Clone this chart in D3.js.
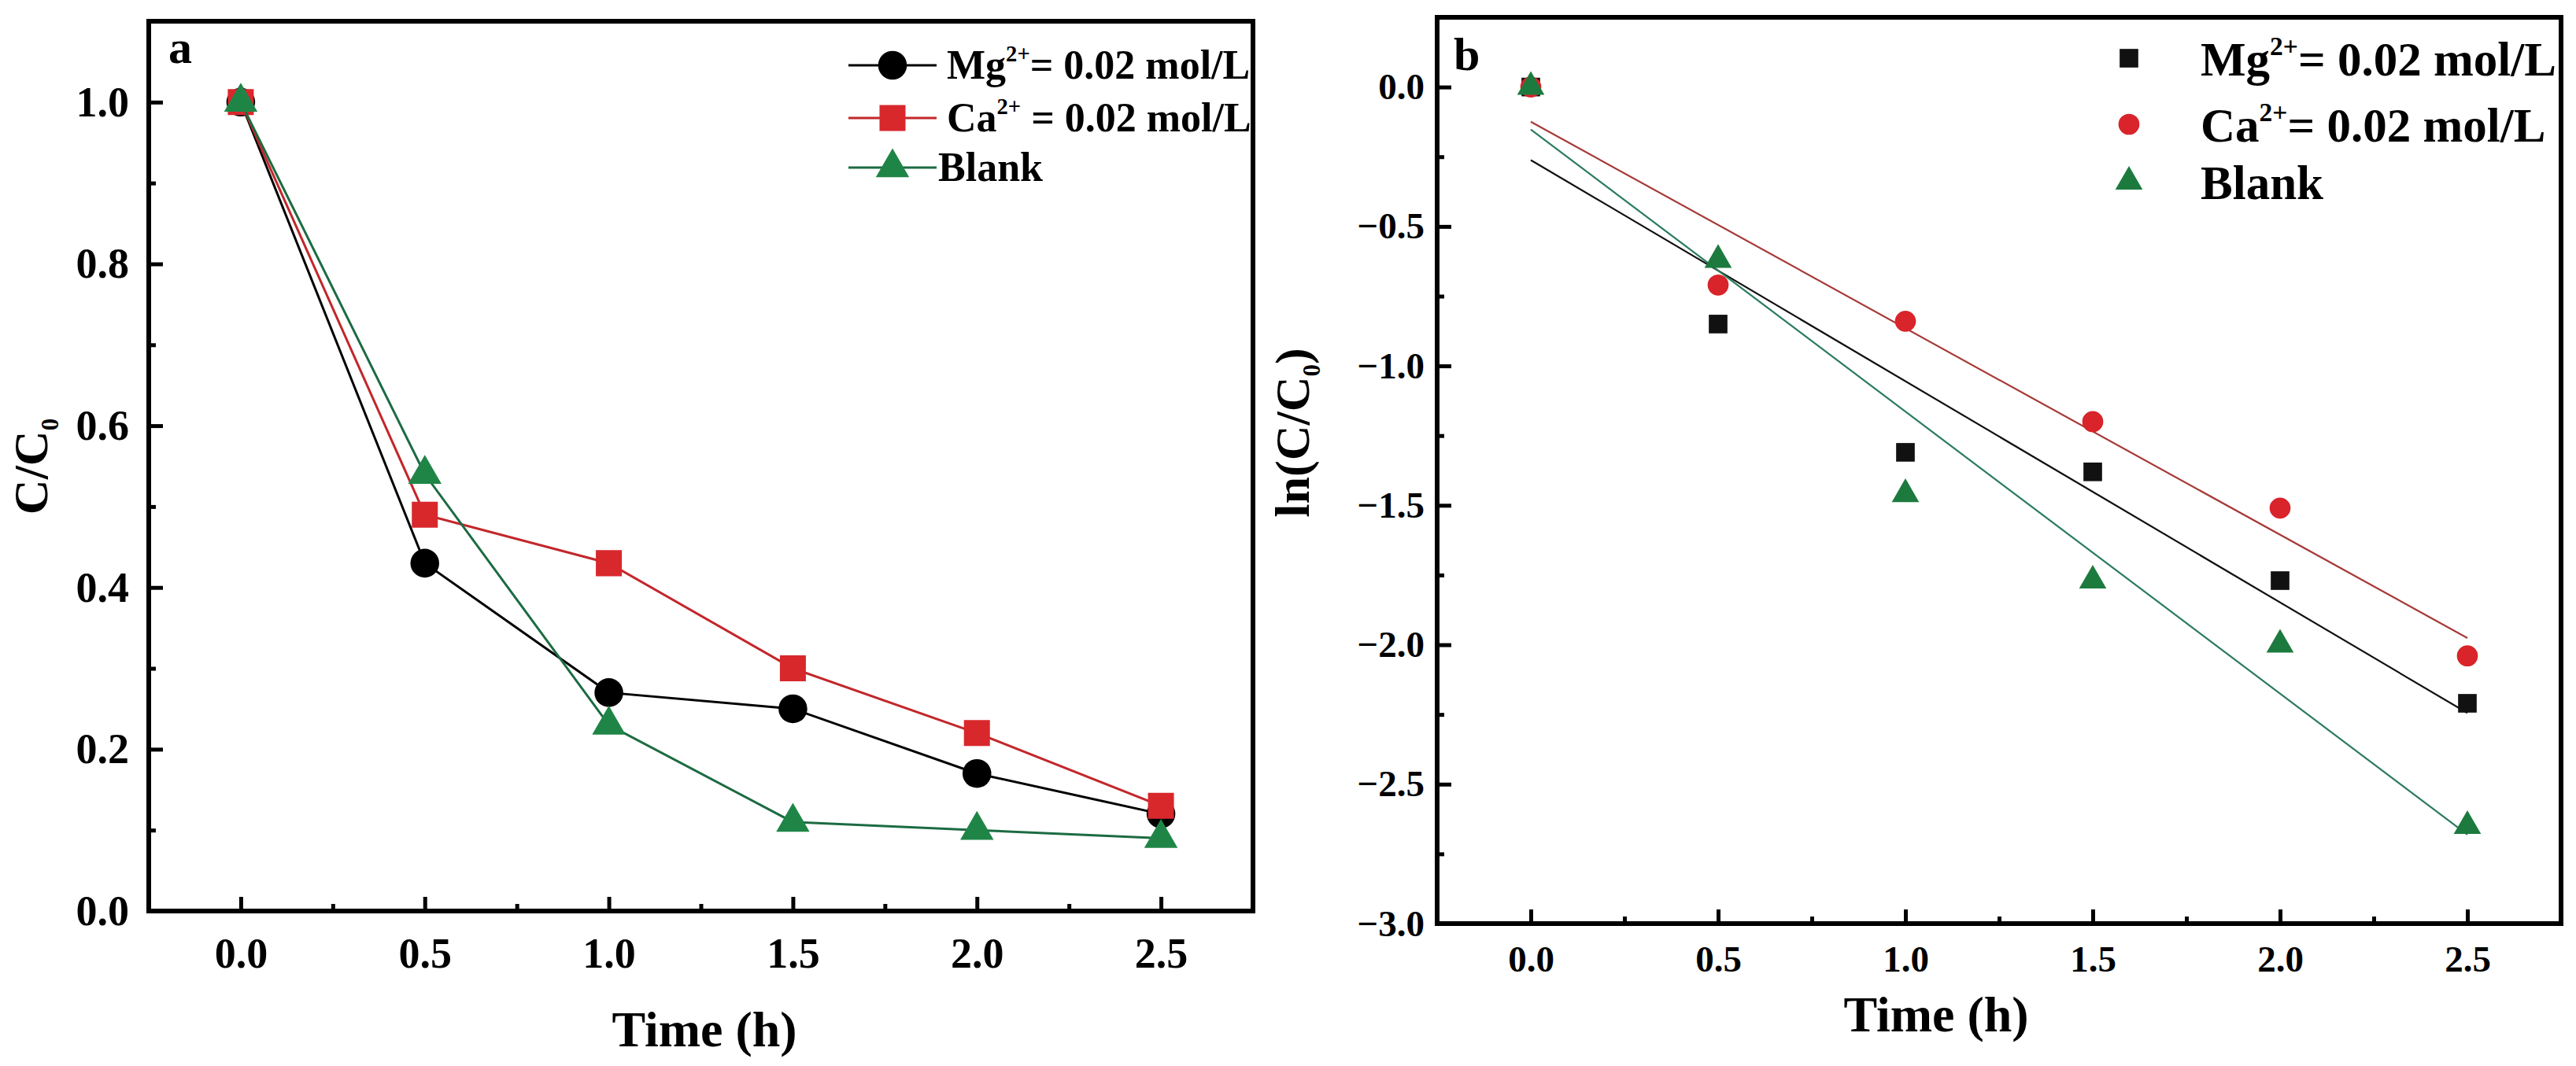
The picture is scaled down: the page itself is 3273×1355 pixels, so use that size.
<!DOCTYPE html>
<html><head><meta charset="utf-8">
<script src="https://cdn.jsdelivr.net/npm/d3@7"></script>
<style>html,body{margin:0;padding:0;background:#fff;} svg{display:block;}</style>
</head><body>
<svg id="chart" width="3273" height="1355"></svg>
<script>
// ---------- data ----------
const timeH = [0, 0.5, 1.0, 1.5, 2.0, 2.5];
// panel a : C/C0
const ratioMg    = [1.00, 0.43, 0.27, 0.25, 0.17, 0.12];
const ratioCa    = [1.00, 0.49, 0.43, 0.30, 0.22, 0.13];
const ratioBlank = [1.00, 0.54, 0.23, 0.11, 0.10, 0.09];
// panel b : ln(C/C0)
const lnMg    = [0, -0.85, -1.31, -1.38, -1.77, -2.21];
const lnCa    = [0, -0.71, -0.84, -1.20, -1.51, -2.04];
const lnBlank = [0, -0.62, -1.46, -1.77, -2.00, -2.65];
// ticks
const xTicks  = [0, 0.5, 1.0, 1.5, 2.0, 2.5];
const xMinor  = [0.25, 0.75, 1.25, 1.75, 2.25];
const yTicksA = [0, 0.2, 0.4, 0.6, 0.8, 1.0];
const yMinorA = [0.1, 0.3, 0.5, 0.7, 0.9];
const yTicksB = [-3.0, -2.5, -2.0, -1.5, -1.0, -0.5, 0.0];
const yMinorB = [-2.75, -2.25, -1.75, -1.25, -0.75, -0.25];
// legend labels
const legendIon = ["Mg", "Ca", "Blank"];

const FONT = "'Liberation Serif','Times New Roman',Times,serif";
const svg = d3.select("#chart");
svg.append("rect").attr("width",3273).attr("height",1355).attr("fill","#fff");

const colA = {
  Mg:   {line:"#000000", fill:"#000000"},
  Ca:   {line:"#c2272b", fill:"#d8282c"},
  Blank:{line:"#1c6b42", fill:"#1f8547"}
};
const colB = {
  Mg:   {line:"#111111", fill:"#111111"},
  Ca:   {line:"#a63a38", fill:"#d8242a"},
  Blank:{line:"#2a7b5c", fill:"#1c7a3e"}
};

// ---------- scales ----------
const xA = d3.scaleLinear([-0.25, 2.75], [189, 1592]);
const yA = d3.scaleLinear([0, 1.1], [1158, 27]);
const xB = d3.scaleLinear([-0.25, 2.75], [1826, 3254]);
const yB = d3.scaleLinear([-3, 0.25], [1174, 22]);

function styleAxis(g, fs){
  g.selectAll("path.domain").remove();
  g.selectAll(".tick line").attr("stroke","#000").attr("stroke-width",5);
  g.selectAll(".tick text").attr("fill","#000").attr("font-family",FONT)
    .attr("font-weight","bold").attr("font-size",fs);
}

function drawAxes(x, y, yt, ym, fs, padX, padY){
  const [x0,x1] = x.range(), [y0,y1] = y.range();
  const gb = svg.append("g").attr("font-family",FONT).attr("transform",`translate(0,${y0})`)
    .call(d3.axisBottom(x).tickValues(xTicks).tickSizeInner(-18).tickSizeOuter(0)
      .tickPadding(padX).tickFormat(d3.format(".1f")));
  styleAxis(gb, fs);
  const gbm = svg.append("g").attr("transform",`translate(0,${y0})`)
    .call(d3.axisBottom(x).tickValues(xMinor).tickSizeInner(-9).tickSizeOuter(0).tickFormat(""));
  styleAxis(gbm, fs);
  const gl = svg.append("g").attr("font-family",FONT).attr("transform",`translate(${x0},0)`)
    .call(d3.axisLeft(y).tickValues(yt).tickSizeInner(-18).tickSizeOuter(0)
      .tickPadding(padY).tickFormat(d3.format(".1f")));
  styleAxis(gl, fs);
  const glm = svg.append("g").attr("transform",`translate(${x0},0)`)
    .call(d3.axisLeft(y).tickValues(ym).tickSizeInner(-9).tickSizeOuter(0).tickFormat(""));
  styleAxis(glm, fs);
  svg.append("rect").attr("x",x0).attr("y",y1).attr("width",x1-x0).attr("height",y0-y1)
    .attr("fill","none").attr("stroke","#000").attr("stroke-width",6);
}

function txt(x,y,s,fs,anchor){
  return svg.append("text").attr("x",x).attr("y",y).attr("font-family",FONT)
    .attr("font-weight","bold").attr("font-size",fs).attr("fill","#000")
    .attr("text-anchor",anchor||"start").text(s);
}

function ionLabel(x, y, ion, fs, spaceBefore){
  const t = svg.append("text").attr("x",x).attr("y",y).attr("font-family",FONT)
    .attr("font-weight","bold").attr("font-size",fs).attr("fill","#000");
  if(ion === "Blank"){ t.text("Blank"); return t; }
  t.append("tspan").text(ion);
  t.append("tspan").attr("font-size",fs*0.55).attr("dy",-fs*0.42).text("2+");
  t.append("tspan").attr("dy",fs*0.42).text((spaceBefore?" ":"") + "= 0.02 mol/L");
  return t;
}

const symType = {Mg: d3.symbolCircle, Ca: d3.symbolSquare, Blank: d3.symbolTriangle};
const symTypeB = {Mg: d3.symbolSquare, Ca: d3.symbolCircle, Blank: d3.symbolTriangle};
const sizeA = {Mg: 1050, Ca: 1090, Blank: 780};
const sizeB = {Mg: 560, Ca: 560, Blank: 520};

// ---------- panel a ----------
drawAxes(xA, yA, yTicksA, yMinorA, 54, 34, 25);
const seriesA = {Mg: ratioMg, Ca: ratioCa, Blank: ratioBlank};
legendIon.forEach(k=>{
  const pts = timeH.map((t,i)=>[t, seriesA[k][i]]);
  svg.append("path").attr("d", d3.line().x(d=>xA(d[0])).y(d=>yA(d[1]))(pts))
    .attr("fill","none").attr("stroke",colA[k].line).attr("stroke-width",3);
  svg.append("g").selectAll("path").data(pts).join("path")
    .attr("transform",d=>`translate(${xA(d[0])},${yA(d[1])})`)
    .attr("d", d3.symbol().type(symType[k]).size(sizeA[k])())
    .attr("fill",colA[k].fill);
});
txt(214, 80, "a", 60);
// y title
const ta = svg.append("text").attr("transform","translate(60,593) rotate(-90)")
  .attr("text-anchor","middle").attr("font-family",FONT).attr("font-weight","bold")
  .attr("font-size",62).attr("fill","#000");
ta.append("tspan").text("C/C");
ta.append("tspan").attr("font-size",31).attr("dy",14).text("0");
txt(895, 1330, "Time (h)", 64, "middle");
// legend a
const legYA = [83, 150, 213];
legendIon.forEach((k,i)=>{
  const yy = legYA[i];
  svg.append("line").attr("x1",1078).attr("x2",1190).attr("y1",yy).attr("y2",yy)
    .attr("stroke",colA[k].line).attr("stroke-width",3);
  svg.append("path").attr("transform",`translate(1134,${yy})`)
    .attr("d", d3.symbol().type(symType[k]).size(sizeA[k])()).attr("fill",colA[k].fill);
  ionLabel(k==="Blank"?1192:1203, yy+17, k, 52, k==="Ca");
});

// ---------- panel b ----------
drawAxes(xB, yB, yTicksB, yMinorB, 47, 28, 16);
const seriesB = {Mg: lnMg, Ca: lnCa, Blank: lnBlank};
function linFit(xs, ys){
  const mx = d3.mean(xs), my = d3.mean(ys);
  const sxy = d3.sum(xs, (x,i)=>(x-mx)*(ys[i]-my));
  const sxx = d3.sum(xs, x=>(x-mx)*(x-mx));
  const b = sxy/sxx; return {b, a: my - b*mx};
}
legendIon.forEach(k=>{
  const f = linFit(timeH, seriesB[k]);
  const ends = d3.extent(timeH).map(t=>[t, f.a + f.b*t]);
  svg.append("path").attr("d", d3.line().x(d=>xB(d[0])).y(d=>yB(d[1]))(ends))
    .attr("fill","none").attr("stroke",colB[k].line).attr("stroke-width",2.2);
});
legendIon.forEach(k=>{
  const pts = timeH.map((t,i)=>[t, seriesB[k][i]]);
  svg.append("g").selectAll("path").data(pts).join("path")
    .attr("transform",d=>`translate(${xB(d[0])},${yB(d[1])})`)
    .attr("d", d3.symbol().type(symTypeB[k]).size(sizeB[k])())
    .attr("fill",colB[k].fill);
});
txt(1847, 89, "b", 60);
const tb = svg.append("text").attr("transform","translate(1663,550) rotate(-90)")
  .attr("text-anchor","middle").attr("font-family",FONT).attr("font-weight","bold")
  .attr("font-size",62).attr("fill","#000");
tb.append("tspan").text("ln(C/C");
tb.append("tspan").attr("font-size",31).attr("dy",14).text("0");
tb.append("tspan").attr("dy",-14).text(")");
txt(2460, 1311, "Time (h)", 64, "middle");
const legYB = [74, 158, 231];
legendIon.forEach((k,i)=>{
  const yy = legYB[i];
  svg.append("path").attr("transform",`translate(2705,${yy})`)
    .attr("d", d3.symbol().type(symTypeB[k]).size(sizeB[k])()).attr("fill",colB[k].fill);
  ionLabel(2796, yy+22, k, 61, false);
});
</script>
</body></html>
